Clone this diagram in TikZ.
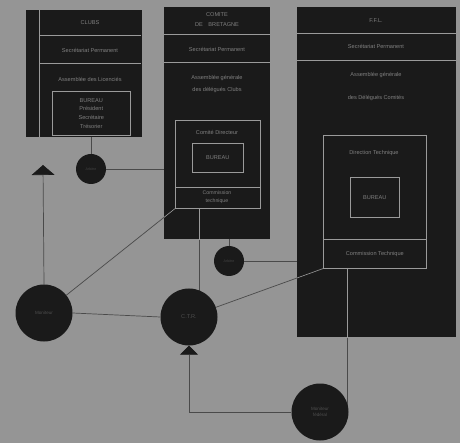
\documentclass[tikz,border=0pt]{standalone}
\usepackage{fontspec}
\setmainfont{Liberation Sans}
\usetikzlibrary{arrows.meta}
\definecolor{bg}{HTML}{959595}
\definecolor{ink}{HTML}{1A1A1A}
\definecolor{rulec}{HTML}{9A9A9A}
\definecolor{txt}{HTML}{808080}
\definecolor{wire}{HTML}{4A4A4A}
\pgfdeclarelayer{background}
\pgfdeclarelayer{foreground}
\pgfsetlayers{background,main,foreground}
\begin{document}
\begin{tikzpicture}[x=1pt,y=-1pt,
  panel/.style={fill=ink,draw=none,anchor=north west,inner sep=0},
  frame/.style={draw=rulec,line width=0.6pt},
  lbl/.style={text=txt,font=\fontsize{5.6}{7}\selectfont,align=center,inner sep=0},
  disc/.style={circle,fill=ink,draw=none,inner sep=0,minimum size=#1},
  wirel/.style={draw=wire,line width=0.7pt},
  inwire/.style={draw=rulec,line width=0.6pt}]
\useasboundingbox (0,0) rectangle (460,443);
% panels
\node[panel,minimum width=116,minimum height=127] (clubs) at (26,10) {};
\node[panel,minimum width=106,minimum height=232] (comite) at (164,7) {};
\node[panel,minimum width=159,minimum height=330] (ffl) at (297,7) {};
% CLUBS contents
\draw[frame] (39,10) -- (39,137);
\draw[frame] (39,35) -- (141,35);
\draw[frame] (39,63) -- (141,63);
\node[frame,anchor=north west,minimum width=78,minimum height=44,inner sep=0] (cbur) at (52,91) {};
\node[lbl] (cl1) at (90,23) {CLUBS};
\node[lbl] (cl2) at (90,50) {Secrétariat Permanent};
\node[lbl] (cl3) at (90,79) {Assemblée des Licenciés};
\node[lbl,font=\fontsize{5.6}{8.6}\selectfont] (cl4) at (cbur.center) {BUREAU\\Président\\Secrétaire\\Trésorier};
% COMITE contents
\draw[frame] (164,34) -- (270,34);
\draw[frame] (164,62) -- (270,62);
\node[lbl,font=\fontsize{5.6}{10}\selectfont] (co1) at (217,20) {COMITE\\DE\quad BRETAGNE};
\node[lbl] (co2) at (217,49) {Secrétariat Permanent};
\node[lbl,font=\fontsize{5.6}{12}\selectfont] (co3) at (217,84) {Assemblée générale\\des délégués Clubs};
\node[frame,anchor=north west,minimum width=85,minimum height=88,inner sep=0] (cdir) at (175,120) {};
\draw[frame] (175,187) -- (260,187);
\node[lbl] (co4) at (217,132) {Comité Directeur};
\node[frame,anchor=north west,minimum width=51,minimum height=29,inner sep=0] (cobur) at (192,143) {};
\node[lbl] (co5) at (cobur.center) {BUREAU};
\node[lbl,font=\fontsize{5.2}{7.5}\selectfont] (co6) at (217,197) {Commission\\technique};
% FFL contents
\draw[frame] (297,33) -- (456,33);
\draw[frame] (297,60) -- (456,60);
\node[lbl] (f1) at (376,21) {F.F.L.};
\node[lbl] (f2) at (376,46) {Secrétariat Permanent};
\node[lbl] (f3) at (376,75) {Assemblée générale};
\node[lbl] (f4) at (376,98) {des Délégués Comités};
\node[frame,anchor=north west,minimum width=103,minimum height=104,inner sep=0] (fdir) at (323,135) {};
\node[frame,anchor=north west,minimum width=103,minimum height=29,inner sep=0] (fcom) at (323,239) {};
\node[lbl] (f5) at (374,153) {Direction Technique};
\node[frame,anchor=north west,minimum width=49,minimum height=40,inner sep=0] (fbur) at (350,177) {};
\node[lbl] (f6) at (fbur.center) {BUREAU};
\node[lbl] (f7) at (fcom.center) {Commission Technique};
% circles
\node[disc=30] (sc1) at (91,169) {};
\node[lbl,font=\fontsize{3.6}{4}\selectfont,text=ink!60!txt] at (sc1) {Arbitre};
\node[disc=30] (sc2) at (229,261) {};
\node[lbl,font=\fontsize{3.6}{4}\selectfont,text=ink!60!txt] at (sc2) {Arbitre};
\node[disc=57] (mon) at (44,313) {};
\node[lbl,font=\fontsize{4.6}{5}\selectfont,text=ink!50!txt] at (mon) {Moniteur};
\node[disc=57] (ctr) at (189,317) {};
\node[lbl,font=\fontsize{5.6}{6}\selectfont,text=ink!50!txt] at (ctr) {C.T.R.};
\node[disc=57] (mf) at (320,412) {};
\node[lbl,font=\fontsize{4.6}{6.5}\selectfont,text=ink!50!txt] at (mf) {Moniteur\\fédéral};
% anchor coordinates
\coordinate (cdc) at (cdir.south west);
\coordinate (cdv) at (199,208);
\coordinate (fcc) at (fcom.south west);
\coordinate (fcv) at (347,268);
\coordinate (uptip) at (43,165);
% connectors
\begin{pgfonlayer}{background}
\fill[bg] (0,0) rectangle (460,443);
\draw[wirel] (sc1.center |- clubs.south) -- (sc1.north);
\draw[wirel] (sc1.east) -- (sc1.east -| comite.west);
\draw[wirel] (sc2.center |- comite.south) -- (sc2.north);
\draw[wirel] (sc2.east) -- (sc2.east -| ffl.west);
\draw[wirel,-{Triangle[width=23pt,length=10pt,color=ink]}] (mon.north) -- (uptip);
\draw[wirel] (mon) -- (cdc);
\draw[wirel] (mon.east) -- (ctr.west);
\draw[wirel] (cdv) -- (cdv |- ctr.center);
\draw[wirel] (ctr) -- (fcc);
\draw[wirel] (fcv) -- (fcv |- mf.center);
\draw[wirel,-{Triangle[width=18pt,length=9pt,color=ink]}] (mf.west) -| (ctr.south);
\end{pgfonlayer}
\begin{pgfonlayer}{foreground}
\begin{scope}
\clip (comite.north west) rectangle (comite.south east);
\draw[inwire] (mon) -- (cdc);
\draw[inwire] (cdv) -- (cdv |- ctr.center);
\end{scope}
\begin{scope}
\clip (ffl.north west) rectangle (ffl.south east);
\draw[inwire] (ctr) -- (fcc);
\draw[inwire] (fcv) -- (fcv |- mf.center);
\end{scope}
\end{pgfonlayer}
\end{tikzpicture}
\end{document}
